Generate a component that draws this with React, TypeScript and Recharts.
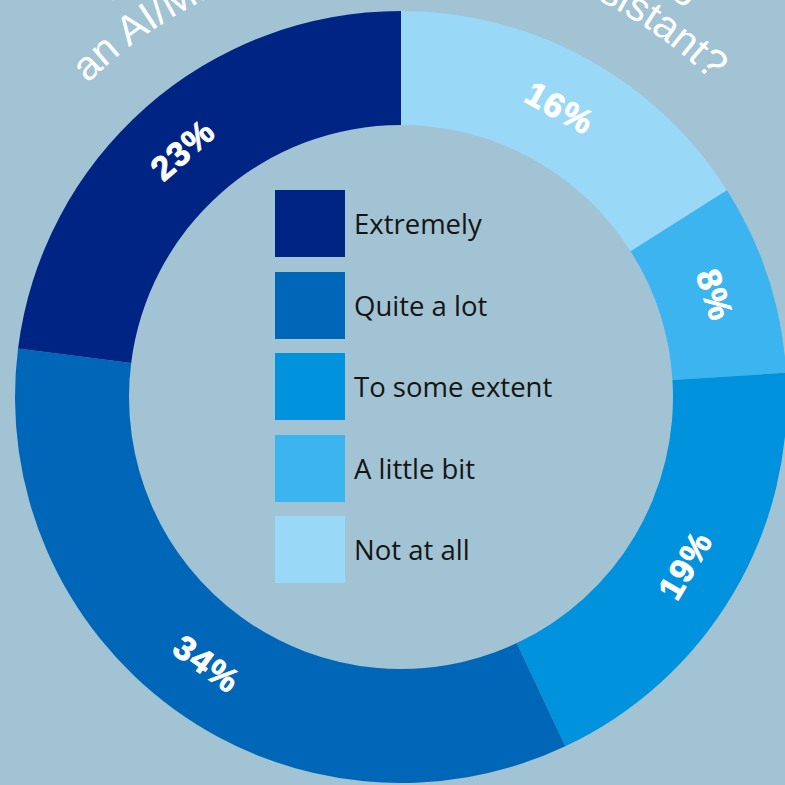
import { Legend, Pie, PieChart, Cell } from "recharts";

// legend order, top to bottom
const categories = ["Extremely", "Quite a lot", "To some extent", "A little bit", "Not at all"];
const shares = [23, 34, 19, 8, 16];
const colors = ["#002484", "#0066b8", "#0092dc", "#3bb4ef", "#99d8f7"];

// curved title, two lines; most of it falls above the frame
const titleLine1 = "How confident would you be using";
const titleLine2a = "an AI/ML-powered";
const titleLine2b = "assistant?";

const W = 785;
const H = 785;
const CX = 401;
const CY = 397;
const RAD = Math.PI / 180;

// the ring runs clockwise from 12 o'clock, starting with "Not at all"
const pieData = categories
  .map((name, i) => ({ name, value: shares[i], color: colors[i] }))
  .reverse();

function PercentLabel(props: any) {
  const { cx, cy, midAngle, innerRadius, outerRadius, value } = props;
  const r = (innerRadius + outerRadius) / 2 + 1;
  const x = cx + r * Math.cos(-midAngle * RAD);
  const y = cy + r * Math.sin(-midAngle * RAD);
  // clockwise-from-top angle, flipped on the lower half so text stays upright
  let rot = 90 - midAngle;
  while (rot > 180) rot -= 360;
  while (rot < -180) rot += 360;
  if (rot > 90) rot -= 180;
  if (rot < -90) rot += 180;
  return (
    <text
      x={x}
      y={y}
      fill="#ffffff"
      stroke="#ffffff"
      strokeWidth={0.9}
      textAnchor="middle"
      dominantBaseline="central"
      fontFamily="'Liberation Sans', Arial, sans-serif"
      fontWeight={700}
      fontSize={34}
      letterSpacing={1.5}
      transform={`rotate(${rot} ${x} ${y})`}
    >
      {value}%
    </text>
  );
}

function SquareLegend() {
  return (
    <div style={{ position: "absolute", left: 275, top: 190 }}>
      {categories.map((name, i) => (
        <div
          key={name}
          style={{ display: "flex", alignItems: "center", height: 67, marginBottom: 14.5 }}
        >
          <div style={{ width: 70, height: 67, background: colors[i] }} />
          <span
            style={{
              marginLeft: 9,
              fontFamily: "'Open Sans', sans-serif",
              fontSize: 27.5,
              color: "#151515",
            }}
          >
            {name}
          </span>
        </div>
      ))}
    </div>
  );
}

function ArcTitle() {
  const arc = (r: number) => `M ${CX - r} ${CY} A ${r} ${r} 0 0 1 ${CX + r} ${CY}`;
  const r1 = 490;
  const r2 = 443;
  const at = (deg: number, r: number) => ((deg + 90) / 180) * Math.PI * r;
  const style = { fontFamily: "'Liberation Sans', Arial, sans-serif", fontSize: 41, fill: "#ffffff" };
  return (
    <svg width={W} height={H} style={{ position: "absolute", left: 0, top: 0 }}>
      <defs>
        <path id="titleArc1" d={arc(r1)} />
        <path id="titleArc2" d={arc(r2)} />
      </defs>
      <text style={style} textAnchor="middle">
        <textPath href="#titleArc1" startOffset={at(0, r1)}>
          {titleLine1}
        </textPath>
      </text>
      <text style={style} textAnchor="start">
        <textPath href="#titleArc2" startOffset={at(-45, r2)}>
          {titleLine2a}
        </textPath>
      </text>
      <text style={style} textAnchor="end">
        <textPath href="#titleArc2" startOffset={at(44.5, r2)}>
          {titleLine2b}
        </textPath>
      </text>
    </svg>
  );
}

export default function App() {
  return (
    <div
      style={{
        position: "absolute",
        left: 0,
        top: 0,
        width: W,
        height: H,
        overflow: "hidden",
        background: "#a1c3d3",
      }}
    >
      <ArcTitle />
      <div style={{ position: "absolute", left: 0, top: 0 }}>
        <PieChart width={W} height={H} margin={{ top: 0, right: 0, bottom: 0, left: 0 }}>
          <Pie
            data={pieData}
            dataKey="value"
            nameKey="name"
            cx={CX}
            cy={CY}
            innerRadius={272}
            outerRadius={386}
            startAngle={90}
            endAngle={-270}
            stroke="none"
            label={PercentLabel}
            labelLine={false}
            isAnimationActive={false}
          >
            {pieData.map((d) => (
              <Cell key={d.name} fill={d.color} />
            ))}
          </Pie>
          <Legend content={() => null} />
        </PieChart>
      </div>
      <SquareLegend />
    </div>
  );
}
